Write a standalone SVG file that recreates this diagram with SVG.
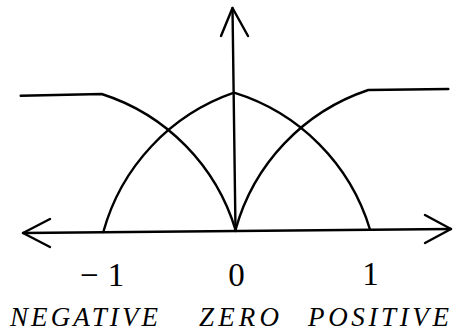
<svg xmlns="http://www.w3.org/2000/svg" width="456" height="333" viewBox="0 0 456 333">
  <style>
    .ln { fill: none; stroke: #000; stroke-width: 2.4; stroke-linecap: round; stroke-linejoin: round; }
  </style>
  <rect width="456" height="333" fill="#fff"/>
  <g id="axes">
    <path class="ln" d="M23,233 L451,229"/>
    <path class="ln" d="M50,219 L23,233 L50,247"/>
    <path class="ln" d="M425,215 L451,229 L425,243"/>
    <path class="ln" d="M232.5,8 L235.5,231"/>
    <path class="ln" d="M221,36 L232.5,8 L248,36"/>
  </g>
  <g id="curves">
    <path id="negative" class="ln" d="M20.7,95.7 L101.7,94 A205,205 0 0 1 235.7,230.5"/>
    <path id="zero" class="ln" d="M103.3,232 A205,205 0 0 1 234,92.7 A205,205 0 0 1 370,229.5"/>
    <path id="positive" class="ln" d="M235.5,230 A205,205 0 0 1 368.3,90 L448.3,89"/>
  </g>
  <g id="ticks" font-family="Liberation Serif, Times New Roman, DejaVu Serif, serif" font-size="33" fill="#000">
    <text x="80" y="286"><tspan>−</tspan><tspan dx="9">1</tspan></text>
    <text x="236.5" y="286" text-anchor="middle">0</text>
    <text x="370.5" y="285" text-anchor="middle">1</text>
  </g>
  <g id="labels" font-family="Liberation Serif, Times New Roman, DejaVu Serif, serif" font-style="italic" font-size="27" fill="#000">
    <text x="10" y="326" textLength="148" lengthAdjust="spacing">NEGATIVE</text>
    <text x="199" y="326" textLength="80" lengthAdjust="spacing">ZERO</text>
    <text x="308" y="326" textLength="141" lengthAdjust="spacing">POSITIVE</text>
  </g>
</svg>
